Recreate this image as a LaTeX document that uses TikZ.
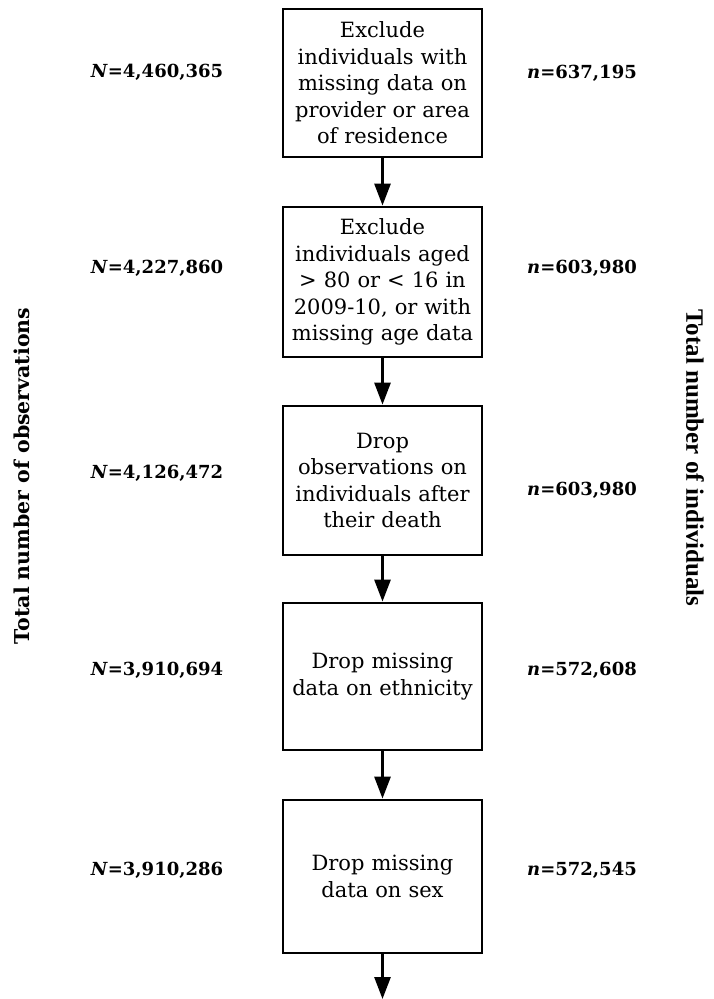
\documentclass[tikz,border=0pt]{standalone}
\usepackage{fontspec}
\setmainfont{DejaVu Serif}
\newfontfamily\timesfont{Liberation Serif}
\usetikzlibrary{arrows.meta}
\tikzset{
  flowbox/.style={draw, line width=2.8pt, minimum width=199pt, align=center,
    text width=196pt, inner sep=0pt, font=\fontsize{21}{26.5}\selectfont},
  countlbl/.style={font=\fontsize{18}{22}\selectfont\bfseries, inner sep=0pt},
  flowarrow/.style={line width=2.8pt, -{Triangle[length=22pt,width=16pt]}},
  sidelbl/.style={font=\fontsize{20.5}{24}\selectfont\bfseries, inner sep=0pt}
}
\begin{document}
\begin{tikzpicture}[x=1pt,y=-1pt]
\useasboundingbox (0,0) rectangle (713,999);
\node[flowbox, minimum height=148pt] (b1) at (382.5,83)
  {Exclude\\individuals with\\missing data on\\provider or area\\of residence};
\node[flowbox, minimum height=150pt] (b2) at (382.5,282)
  {Exclude\\individuals aged\\> 80 or < 16 in\\2009-10, or with\\missing age data};
\node[flowbox, minimum height=149pt] (b3) at (382.5,480.5)
  {Drop\\observations on\\individuals after\\their death};
\node[flowbox, minimum height=147pt] (b4) at (382.5,676.5)
  {Drop missing\\data on ethnicity};
\node[flowbox, minimum height=153pt] (b5) at (382.5,876.5)
  {Drop missing\\data on sex};
\coordinate (end) at (382.5,999);
\draw[flowarrow] (b1) -- (b2);
\draw[flowarrow] (b2) -- (b3);
\draw[flowarrow] (b3) -- (b4);
\draw[flowarrow] (b4) -- (b5);
\draw[flowarrow] (b5) -- (end);
\node[countlbl] (l1) at (157,72) {\textit{N}=4,460,365};
\node[countlbl] (l2) at (157,268) {\textit{N}=4,227,860};
\node[countlbl] (l3) at (157,473) {\textit{N}=4,126,472};
\node[countlbl] (l4) at (157,670) {\textit{N}=3,910,694};
\node[countlbl] (l5) at (157,870) {\textit{N}=3,910,286};
\node[countlbl] (r1) at (582,73) {\textit{n}=637,195};
\node[countlbl] (r2) at (582,268) {\textit{n}=603,980};
\node[countlbl] (r3) at (582,490) {\textit{n}=603,980};
\node[countlbl] (r4) at (582,670) {\textit{n}=572,608};
\node[countlbl] (r5) at (582,870) {\textit{n}=572,545};
\node[sidelbl, rotate=90] (sl) at (22,476) {Total number of observations};
\node[sidelbl, rotate=-90, font=\fontsize{25}{28}\selectfont\timesfont\bfseries] (sr) at (695,458) {Total number of individuals};
\end{tikzpicture}
\end{document}
